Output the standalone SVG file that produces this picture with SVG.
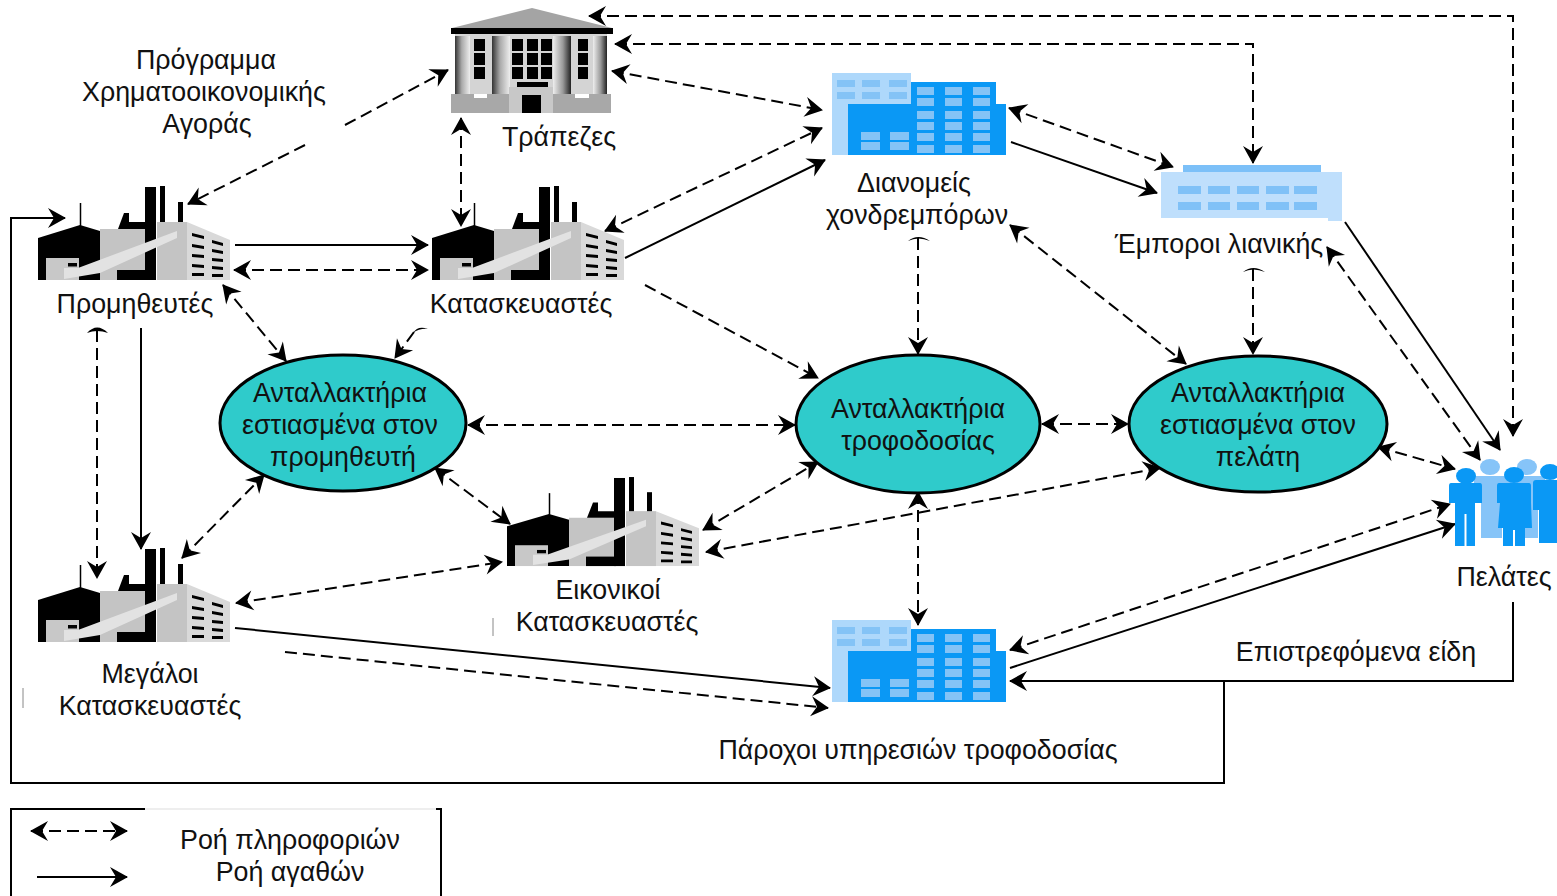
<svg xmlns="http://www.w3.org/2000/svg" width="1557" height="896" viewBox="0 0 1557 896">
<style>
text{font-family:"Liberation Sans",Arial,sans-serif;font-size:26.800px;fill:#111;text-anchor:middle}
.s{fill:none;stroke:#000;stroke-width:2}
.d{fill:none;stroke:#000;stroke-width:2;stroke-dasharray:12 6;marker-start:url(#as);marker-end:url(#ae)}
.e{fill:none;stroke:#000;stroke-width:2;stroke-dasharray:12 6;marker-end:url(#ae)}
.c{fill:none;stroke:#000;stroke-width:2;stroke-dasharray:12 6;marker-end:url(#ae)}
.a{marker-end:url(#ae)}
.el{fill:#2fcbcb;stroke:#000;stroke-width:3}
.cap{fill:#000}
</style>
<defs>
<marker id="ae" markerUnits="userSpaceOnUse" markerWidth="22" markerHeight="22" refX="17" refY="10" orient="auto" overflow="visible"><path d="M0 0L18 10L0 20L6 10Z" fill="#000"/></marker>
<marker id="as" markerUnits="userSpaceOnUse" markerWidth="22" markerHeight="22" refX="1" refY="10" orient="auto" overflow="visible"><path d="M18 0L0 10L18 20L12 10Z" fill="#000"/></marker>
<linearGradient id="col"><stop offset="0" stop-color="#333"/><stop offset=".45" stop-color="#aaa"/><stop offset="1" stop-color="#eee"/></linearGradient>
<linearGradient id="colr"><stop offset="0" stop-color="#eee"/><stop offset=".55" stop-color="#999"/><stop offset="1" stop-color="#222"/></linearGradient>
<g id="factory">
<path d="M38 238L80 225L100 231V280H38Z" fill="#000"/>
<path d="M80.500 203V226" stroke="#000" stroke-width="1.500"/>
<rect x="100" y="229" width="47" height="51" fill="#c4c4c4"/>
<path d="M124 213H129V222H147V229H118Z" fill="#000"/>
<rect x="145" y="187" width="11" height="93" fill="#000"/>
<rect x="160" y="186" width="5" height="37" fill="#000"/>
<rect x="178" y="202" width="5" height="21" fill="#000"/>
<rect x="117" y="270" width="30" height="10" fill="#000"/>
<rect x="157" y="222" width="30" height="58" fill="#c4c4c4"/>
<path d="M187 222L230 240V280H187Z" fill="#d9d9d9"/>
<rect x="46" y="258" width="33" height="22" fill="#c8c8c8"/>
<path d="M64 268H78L177 231V238L100 273L64 279Z" fill="#e2e2e2"/>
<rect x="68" y="263" width="9" height="3.500" fill="#000"/>
<path d="M192 233l12 3v3l-12-3zM212 240l11 3v3l-11-3zM192 244l12 2v3l-12-2zM212 249l11 2v3l-11-2zM192 254l12 1v3l-12-1zM212 258l11 1v3l-11-1zM192 264l12 1v3l-12-1zM212 266l11 1v3l-11-1zM192 273h12v3h-12zM212 274h11v3h-11z" fill="#000"/>
</g>
<g id="office">
<rect x="832" y="73" width="79" height="82" fill="#aed8fb"/>
<path d="M848 104H911V82H996V104H1006V155H848Z" fill="#0a98f5"/>
<path d="M837 80h18v7h-18zM862 80h18v7h-18zM889 80h18v7h-18zM837 92h18v7h-18zM862 92h18v7h-18zM889 92h18v7h-18z" fill="#84c3f6"/>
<path d="M917 87h17v8h-17zM945 87h17v8h-17zM973 87h17v8h-17zM917 98h17v8h-17zM945 98h17v8h-17zM973 98h17v8h-17zM917 111h17v8h-17zM945 111h17v8h-17zM973 111h17v8h-17zM917 122h17v8h-17zM945 122h17v8h-17zM973 122h17v8h-17zM917 133h17v8h-17zM945 133h17v8h-17zM973 133h17v8h-17zM917 145h17v8h-17zM945 145h17v8h-17zM973 145h17v8h-17zM861 132h19v8h-19zM890 132h19v8h-19zM861 142h19v8h-19zM890 142h19v8h-19z" fill="#84c3f6"/>
</g>
</defs>
<rect width="1557" height="896" fill="#fff"/>

<g id="connectors">
<path class="d" d="M589 16H1513V436"/>
<path class="d" d="M615 44H1253V163"/>
<path class="d" d="M612 71L822 110"/>
<path class="d" d="M1009 108L1173 167"/>
<path class="s a" d="M1011 142L1157 193"/>
<path class="e" d="M345 125L448 70"/>
<path class="e" d="M305 145L188 204"/>
<path class="d" d="M461 118V226"/>
<path class="d" d="M605 231L822 128"/>
<path class="s a" d="M625 258L825 160"/>
<path class="e" d="M645 285L818 378"/>
<path class="s a" d="M235 245H428"/>
<path class="d" d="M234 270H428"/>
<path class="d" d="M223 285L286 361"/>
<path class="e" d="M414 332L395 358"/>
<path class="cap" d="M413 333Q418 325 428 329Q420 328 413 333Z"/>
<path class="s a" d="M141 328V549"/>
<path class="c" d="M97 330V578"/>
<path class="cap" d="M87 333Q97 322 108 333Q97 329 87 333Z"/>
<path class="d" d="M182 558L264 475"/>
<path class="d" d="M236 603L502 562"/>
<path class="s a" d="M235 628L830 688"/>
<path class="e" d="M285 652L828 708"/>
<path class="d" d="M435 468L510 524"/>
<path class="d" d="M468 425H795"/>
<path class="d" d="M703 530L818 462"/>
<path class="d" d="M706 552L1160 468"/>
<path class="c" d="M918 238V354"/>
<path class="cap" d="M908 241Q918 233 930 241Q918 236 908 241Z"/>
<path class="d" d="M1010 225L1186 364"/>
<path class="c" d="M1253 269V354"/>
<path class="cap" d="M1243 272Q1253 264 1265 272Q1253 267 1243 272Z"/>
<path class="d" d="M1042 424H1128"/>
<path class="d" d="M1378 447L1455 469"/>
<path class="d" d="M1327 247L1480 460"/>
<path class="s a" d="M1345 222L1500 450"/>
<path class="d" d="M918 492V625"/>
<path class="d" d="M1010 650L1450 504"/>
<path class="s a" d="M1010 668L1455 524"/>
<path class="s a" d="M1513 602V681H1010"/>
<path class="s a" d="M1224 681V783H11V218H65"/>
<path d="M493 618V636M23 688V708" stroke="#888" stroke-width="1" fill="none"/>
</g>

<g id="bank">
<path d="M452 28L532 8L612 28Z" fill="#a4a4a4"/>
<rect x="455" y="34" width="152" height="60" fill="#d4d4d4"/>
<rect x="451" y="28" width="162" height="6" fill="#000"/>
<rect x="455" y="36" width="15" height="58" fill="url(#col)"/>
<rect x="492" y="36" width="18" height="58" fill="url(#col)"/>
<rect x="553" y="36" width="18" height="58" fill="url(#colr)"/>
<rect x="593" y="36" width="14" height="58" fill="url(#colr)"/>
<path d="M474 39h11v12h-11zM474 53h11v12h-11zM474 67h11v12h-11zM512 39h11v12h-11zM527 39h11v12h-11zM541 39h11v12h-11zM512 53h11v12h-11zM527 53h11v12h-11zM541 53h11v12h-11zM512 67h11v12h-11zM527 67h11v12h-11zM541 67h11v12h-11zM578 39h10v12h-10zM578 53h10v12h-10zM578 67h10v12h-10z" fill="#000"/>
<rect x="517" y="82" width="31" height="5" fill="#000"/>
<rect x="509" y="87" width="44" height="26" fill="#c8c8c8"/>
<rect x="522" y="95" width="19" height="18" fill="#000"/>
<path d="M451 94H474V98H487V94H509V113H451ZM553 94H575V98H589V94H611V113H553Z" fill="#a8a8a8"/>
<text x="559" y="146">Τράπεζες</text>
</g>
<g id="programme"><text x="206" y="69">Πρόγραμμα</text><text x="204" y="101">Χρηματοοικονομικής</text><text x="207" y="133">Αγοράς</text></g>
<g id="suppliers"><use href="#factory"/><text x="135" y="313">Προμηθευτές</text></g>
<g id="manufacturers"><use href="#factory" x="394"/><text x="521" y="313">Κατασκευαστές</text></g>
<g id="big-manufacturers"><use href="#factory" y="362"/><text x="150" y="683">Μεγάλοι</text><text x="150" y="715">Κατασκευαστές</text></g>
<g id="virtual-manufacturers"><use href="#factory" transform="translate(469 300.900) scale(1 .947)"/><text x="608" y="599">Εικονικοί</text><text x="607" y="631">Κατασκευαστές</text></g>
<g id="wholesalers"><use href="#office"/><text x="914" y="192">Διανομείς</text><text x="917" y="224">χονδρεμπόρων</text></g>
<g id="service-providers"><use href="#office" y="547"/><text x="918" y="759">Πάροχοι υπηρεσιών τροφοδοσίας</text></g>
<g id="retailers">
<path d="M1183 165H1321V172H1342V221H1328V218H1161V172H1183Z" fill="#bfdffc"/>
<rect x="1183" y="165" width="138" height="7" fill="#7cc0f8"/>
<path d="M1178 186h23v8h-23zM1208 186h22v8h-22zM1237 186h22v8h-22zM1266 186h23v8h-23zM1294 186h23v8h-23zM1178 202h23v8h-23zM1208 202h22v8h-22zM1237 202h22v8h-22zM1266 202h23v8h-23zM1294 202h23v8h-23z" fill="#80c1f7"/>
<text x="1219" y="253">Έμποροι λιανικής</text>
</g>
<g id="customers">
<g fill="#86c4f8">
<ellipse cx="1490" cy="467" rx="10" ry="8"/><path d="M1474 476H1510V500H1502V538H1481V500H1474Z"/>
<ellipse cx="1527" cy="467" rx="10" ry="8"/><path d="M1510 476H1545V500H1538V538H1520V500H1510Z"/>
</g>
<g fill="#0a98f5">
<ellipse cx="1466" cy="476" rx="10" ry="8"/><path d="M1451 483H1480Q1482 483 1482 486V503H1475V546H1466.500V514H1464.500V546H1455V503H1449V486Q1449 483 1451 483Z"/>
<ellipse cx="1514" cy="475" rx="10" ry="8"/><path d="M1499 483H1529Q1531 483 1531 486V503L1532 528H1525V546H1515V530H1513V546H1503V528H1498L1500 503H1497V486Q1497 483 1499 483Z"/>
<ellipse cx="1550" cy="472" rx="10" ry="8"/><path d="M1536 480H1557V543H1539V510H1533V483Q1533 480 1536 480Z"/>
</g>
<text x="1504" y="586">Πελάτες</text>
</g>
<text x="1356" y="661" id="returns">Επιστρεφόμενα είδη</text>
<g id="exchange-supplier"><ellipse class="el" cx="343" cy="423" rx="123" ry="68"/><text x="340" y="402">Ανταλλακτήρια</text><text x="340" y="434">εστιασμένα στον</text><text x="343" y="466">προμηθευτή</text></g>
<g id="exchange-supply"><ellipse class="el" cx="918" cy="424" rx="122" ry="69"/><text x="918" y="418">Ανταλλακτήρια</text><text x="918" y="450">τροφοδοσίας</text></g>
<g id="exchange-customer"><ellipse class="el" cx="1258" cy="424" rx="129" ry="68"/><text x="1258" y="402">Ανταλλακτήρια</text><text x="1258" y="434">εστιασμένα στον</text><text x="1258" y="466">πελάτη</text></g>
<g id="legend">
<path d="M11 896V809H145" fill="none" stroke="#000" stroke-width="2"/>
<path d="M145 809H436" fill="none" stroke="#ddd" stroke-width="1"/>
<path d="M436 809H441V896" fill="none" stroke="#000" stroke-width="2"/>
<path class="d" d="M31 831H127"/>
<path class="s a" d="M37 877H127"/>
<text x="290" y="849">Ροή πληροφοριών</text>
<text x="290" y="881">Ροή αγαθών</text>
</g>
</svg>
